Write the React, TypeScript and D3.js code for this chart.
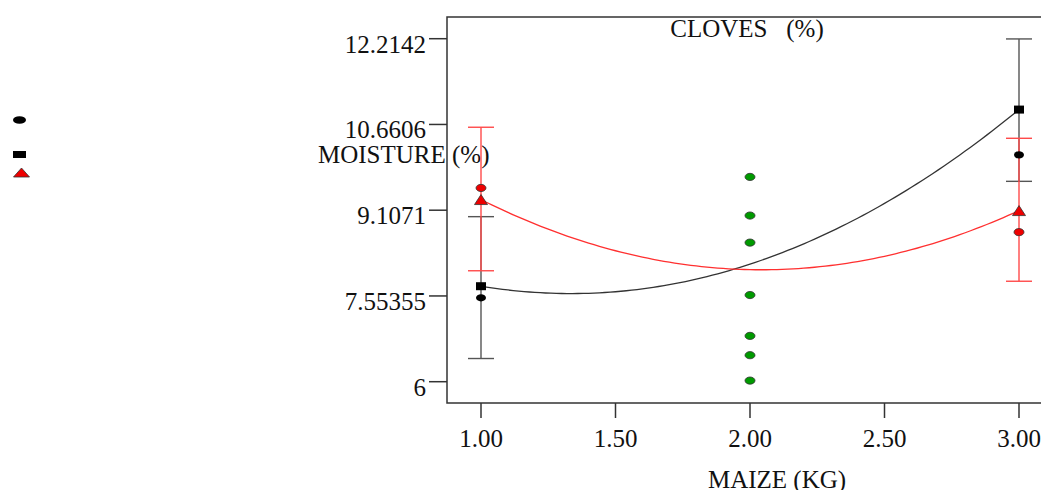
import React from 'react';
import * as d3 from 'd3';

// x positions (maize, kg)
const maizeLevels = [1, 2, 3];
const xTicks = [1.0, 1.5, 2.0, 2.5, 3.0];
const yTicks = [6, 7.55355, 9.1071, 10.6606, 12.2142];
const yTickLabels = ['6', '7.55355', '9.1071', '10.6606', '12.2142'];

// black series: moisture fit means at each level
const moistureFit = [7.73, 8.13, 10.93];
const moistureBarX = [1, 3];
const moistureLow = [6.42, 9.63];
const moistureHigh = [8.99, 12.21];
const moistureMark = [7.73, 10.93];
const moistureObs = [7.52, 10.11];

// red series: cloves fit means at each level
const clovesFit = [9.3, 8.03, 9.1];
const clovesBarX = [1, 3];
const clovesLow = [8.01, 7.82];
const clovesHigh = [10.61, 10.41];
const clovesMark = [9.3, 9.1];
const clovesObs = [9.51, 8.71];

// green observations at 2.00
const greenX = 2;
const greenObs = [9.71, 9.01, 8.52, 7.57, 6.83, 6.48, 6.02];

const W = 1041;
const H = 490;
const FONT = '"Liberation Serif", "Times New Roman", serif';
const FS = 25;

// quadratic through three points (Lagrange)
function quad(xs: number[], ys: number[]) {
  return (x: number) => {
    let s = 0;
    for (let i = 0; i < 3; i++) {
      let t = ys[i];
      for (let j = 0; j < 3; j++) {
        if (j !== i) t *= (x - xs[j]) / (xs[i] - xs[j]);
      }
      s += t;
    }
    return s;
  };
}

export default function App() {
  const x = d3.scaleLinear().domain([1, 3]).range([481, 1019]);
  const y = d3.scaleLinear().domain([6, 12.2142]).range([381.7, 38.7]);

  const samples = d3.range(1, 3.0001, 0.02);
  const line = d3.line<number[]>().x(d => x(d[0])).y(d => y(d[1]));
  const fBlack = quad(maizeLevels, moistureFit);
  const fRed = quad(maizeLevels, clovesFit);
  const blackPath = line(samples.map(v => [v, fBlack(v)])) || '';
  const redPath = line(samples.map(v => [v, fRed(v)])) || '';

  const frameLeft = 447;
  const frameTop = 17;
  const frameBottom = 403;

  const tri = (cx: number, cy: number, w: number, h: number) =>
    `M${cx - w / 2},${cy + h / 2}L${cx},${cy - h / 2}L${cx + w / 2},${cy + h / 2}Z`;

  const errBar = (xv: number, lo: number, hi: number, color: string, key: string) => (
    <g key={key} stroke={color} strokeWidth={1.4}>
      <line x1={x(xv)} x2={x(xv)} y1={y(lo)} y2={y(hi)} />
      <line x1={x(xv) - 13} x2={x(xv) + 13} y1={y(lo)} y2={y(lo)} />
      <line x1={x(xv) - 13} x2={x(xv) + 13} y1={y(hi)} y2={y(hi)} />
    </g>
  );

  return (
    <svg width={W} height={H} style={{ position: 'absolute', left: 0, top: 0, background: '#fff' }} fontFamily={FONT}>
      {/* frame */}
      <path
        d={`M${W + 10},${frameTop}H${frameLeft}V${frameBottom}H${W + 10}`}
        fill="none"
        stroke="#333"
        strokeWidth={1.5}
      />

      {/* y axis */}
      {yTicks.map((t, i) => (
        <g key={'y' + i}>
          <line x1={429} x2={frameLeft} y1={y(t)} y2={y(t)} stroke="#333" strokeWidth={1.5} />
          <text x={426} y={y(t) + 14} textAnchor="end" fontSize={FS} fill="#111">
            {yTickLabels[i]}
          </text>
        </g>
      ))}

      {/* x axis */}
      {xTicks.map((t, i) => (
        <g key={'x' + i}>
          <line x1={x(t)} x2={x(t)} y1={frameBottom} y2={418} stroke="#333" strokeWidth={1.5} />
          <text x={x(t)} y={447} textAnchor="middle" fontSize={FS} fill="#111">
            {d3.format('.2f')(t)}
          </text>
        </g>
      ))}

      <text x={777} y={488} textAnchor="middle" fontSize={FS} fill="#111">MAIZE (KG)</text>
      <text x={747} y={37} textAnchor="middle" fontSize={FS} fill="#111" style={{ whiteSpace: 'pre' }}>CLOVES   (%)</text>
      <text x={318} y={163} fontSize={FS} fill="#111">MOISTURE (%)</text>

      {/* error bars */}
      {moistureBarX.map((v, i) => errBar(v, moistureLow[i], moistureHigh[i], '#555', 'mb' + i))}
      {clovesBarX.map((v, i) => errBar(v, clovesLow[i], clovesHigh[i], '#ff4a4a', 'cb' + i))}

      {/* fitted curves */}
      <path d={blackPath} fill="none" stroke="#333" strokeWidth={1.3} />
      <path d={redPath} fill="none" stroke="#ff3030" strokeWidth={1.3} />

      {/* green observations */}
      {greenObs.map((v, i) => (
        <ellipse key={'g' + i} cx={x(greenX)} cy={y(v)} rx={5} ry={3.6} fill="#009a00" stroke="#333" strokeWidth={0.8} />
      ))}

      {/* black observations */}
      {moistureObs.map((v, i) => (
        <ellipse key={'bo' + i} cx={x(moistureBarX[i])} cy={y(v)} rx={5} ry={3.6} fill="#000" />
      ))}
      {moistureMark.map((v, i) => (
        <rect key={'bm' + i} x={x(moistureBarX[i]) - 5} y={y(v) - 4} width={10} height={8} fill="#000" />
      ))}

      {/* red observations */}
      {clovesObs.map((v, i) => (
        <ellipse key={'ro' + i} cx={x(clovesBarX[i])} cy={y(v)} rx={5} ry={3.6} fill="#ee0000" stroke="#333" strokeWidth={0.8} />
      ))}
      {clovesMark.map((v, i) => (
        <path key={'rm' + i} d={tri(x(clovesBarX[i]), y(v), 13, 10)} fill="#ee0000" stroke="#333" strokeWidth={0.8} />
      ))}

      {/* legend markers */}
      <ellipse cx={19.5} cy={120} rx={6.5} ry={3.8} fill="#000" />
      <rect x={13} y={151} width={13} height={7} fill="#000" />
      <path d={tri(21.5, 172.5, 16, 9)} fill="#ee0000" stroke="#333" strokeWidth={0.8} />
    </svg>
  );
}
